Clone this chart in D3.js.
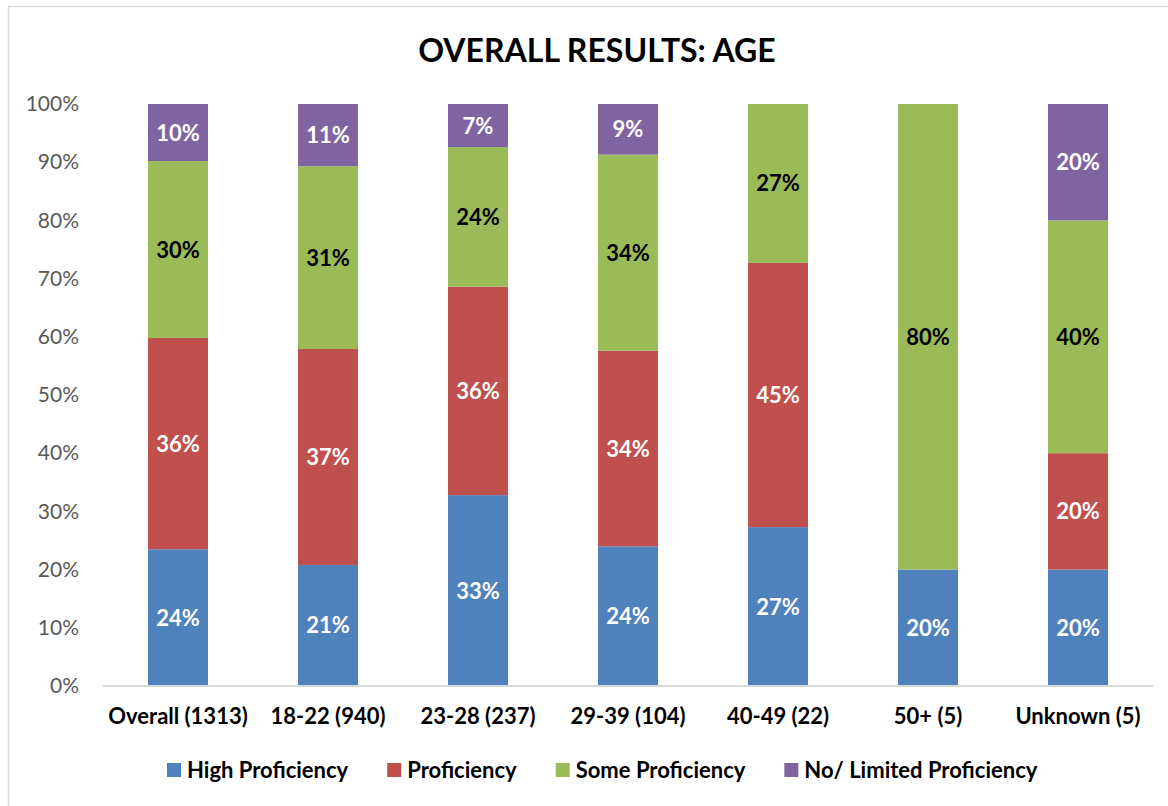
<!DOCTYPE html>
<html><head><meta charset="utf-8">
<script src="https://cdn.jsdelivr.net/npm/d3@7"></script>
<style>body{margin:0;background:#fff;} svg{display:block;}</style>
</head><body>
<svg id="c" width="1168" height="806"></svg>
<script>
const categories = ["Overall (1313)", "18-22 (940)", "23-28 (237)", "29-39 (104)", "40-49 (22)", "50+ (5)", "Unknown (5)"];
const seriesNames = ["High Proficiency", "Proficiency", "Some Proficiency", "No/ Limited Proficiency"];
const highProficiency = [23.5, 20.8, 32.8, 24.0, 27.3, 20, 20];
const proficiency = [36.3, 37.1, 35.8, 33.6, 45.4, 0, 20];
const someProficiency = [30.4, 31.4, 24.0, 33.7, 27.3, 80, 40];
const noLimited = [9.8, 10.7, 7.4, 8.7, 0, 0, 20];
const colors = ["#4F81BD", "#C0504D", "#9BBB59", "#8064A2"];
const labelColors = ["#fff", "#fff", "#000", "#fff"];
const yTicks = [0,10,20,30,40,50,60,70,80,90,100];

const font = "Lato, 'Open Sans', sans-serif";
const svg = d3.select("#c");
svg.append("rect").attr("x",8.5).attr("y",6.5).attr("width",1170).attr("height",820)
  .attr("fill","#fff").attr("stroke","#d9d9d9").attr("stroke-width",1.5);

const m = {left:103, right:1153, top:104, bottom:686};
const x = d3.scaleBand().domain(categories).range([m.left, m.right]).paddingInner(0.6).paddingOuter(0.3);
const y = d3.scaleLinear().domain([0,100]).range([m.bottom, m.top]);

svg.append("text").attr("x",597).attr("y",62).attr("text-anchor","middle")
  .attr("font-family",font).attr("font-weight","bold").attr("font-size",32).attr("fill","#000")
  .text("OVERALL RESULTS: AGE");

const seriesData = [highProficiency, proficiency, someProficiency, noLimited];
const rows = categories.map((c,i)=>{const o={cat:c}; seriesNames.forEach((s,j)=>o[s]=seriesData[j][i]); return o;});
const stack = d3.stack().keys(seriesNames)(rows);

const g = svg.append("g");
stack.forEach((layer,j)=>{
  const lg = g.append("g");
  lg.selectAll("rect").data(layer).join("rect")
    .attr("x",d=>x(d.data.cat)).attr("width",x.bandwidth())
    .attr("y",d=>y(d[1])).attr("height",d=>Math.max(0,y(d[0])-y(d[1])))
    .attr("fill",colors[j]);
  lg.selectAll("text").data(layer.filter(d=>d[1]-d[0]>0.01)).join("text")
    .attr("x",d=>x(d.data.cat)+x.bandwidth()/2)
    .attr("y",d=>(y(d[0])+y(d[1]))/2+8)
    .attr("text-anchor","middle").attr("font-family",font).attr("font-weight","bold")
    .attr("font-size",22).attr("fill",labelColors[j])
    .text(d=>Math.round(d[1]-d[0])+"%");
});

// y axis
const ya = svg.append("g").attr("transform",`translate(${m.left},0)`)
  .call(d3.axisLeft(y).tickValues(yTicks).tickFormat(d=>d+"%").tickSize(0).tickPadding(24));
ya.select(".domain").remove();
ya.selectAll("text").attr("font-family",font).attr("font-size",21).attr("fill","#595959");

// x axis
const xa = svg.append("g").attr("transform",`translate(0,${m.bottom})`)
  .call(d3.axisBottom(x).tickSize(0).tickPadding(22));
xa.select(".domain").attr("stroke","#d9d9d9").attr("stroke-width",2)
  .attr("d",`M${m.left},0H${m.right}`);
xa.selectAll("text").attr("font-family",font).attr("font-weight","bold").attr("font-size",22).attr("fill","#000");

// legend
const leg = svg.append("g");
let lx = 167;
seriesNames.forEach((s,j)=>{
  const it = leg.append("g").attr("transform",`translate(${lx},0)`);
  it.append("rect").attr("x",0).attr("y",763).attr("width",14).attr("height",14).attr("fill",colors[j]);
  const t = it.append("text").attr("x",20).attr("y",778).attr("font-family",font).attr("font-weight","bold")
    .attr("font-size",22).attr("fill","#000").text(s);
  lx += 20 + t.node().getComputedTextLength() + 39;
});
</script>
</body></html>
